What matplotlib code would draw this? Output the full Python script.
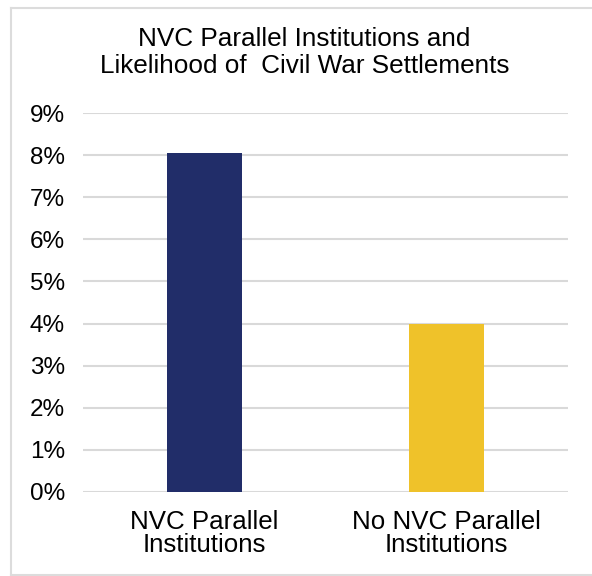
import matplotlib
matplotlib.use("Agg")
import matplotlib.pyplot as plt
from matplotlib.lines import Line2D
from matplotlib.ticker import FuncFormatter

plt.rcParams["font.family"] = ["Liberation Sans", "DejaVu Sans"]

categories = ["NVC Parallel\nInstitutions", "No NVC Parallel\nInstitutions"]
values = [0.0805, 0.040]
colors = ["#212d69", "#efc22a"]
yticks = [i / 100 for i in range(10)]

W, H = 592, 576
fig = plt.figure(figsize=(W / 100, H / 100), dpi=100)

# frame: left, top and bottom edges only
border = "#dcdcdc"
fig.lines.append(Line2D([11 / W, 11 / W], [1 - 8 / H, 1 - 575 / H],
                        transform=fig.transFigure, color=border, linewidth=1.5))
fig.lines.append(Line2D([11 / W, 1], [1 - 8 / H, 1 - 8 / H],
                        transform=fig.transFigure, color=border, linewidth=1.5))
fig.lines.append(Line2D([11 / W, 1], [1 - 575 / H, 1 - 575 / H],
                        transform=fig.transFigure, color=border, linewidth=1.5))

ax = fig.add_axes([83 / W, 1 - 492 / H, 485 / W, 379 / H])
x = range(len(categories))
ax.bar(x, values, width=0.31, color=colors, zorder=3)
ax.set_xlim(-0.5, 1.5)
ax.set_ylim(0, 0.09)
ax.set_yticks(yticks)
ax.yaxis.set_major_formatter(FuncFormatter(lambda v, _: f"{v * 100:.0f}%"))
ax.set_xticks(list(x))
ax.set_xticklabels(categories, fontsize=18.6, linespacing=0.95)
ax.tick_params(axis="y", labelsize=17.5, length=0, pad=13)
ax.tick_params(axis="x", length=0, pad=13)
ax.grid(axis="y", color="#d9d9d9", linewidth=1.5, zorder=0)
for s in ax.spines.values():
    s.set_visible(False)

fig.text(304.5 / W, 1 - 46 / H, "NVC Parallel Institutions and",
         ha="center", va="baseline", fontsize=18.8)
fig.text(304.5 / W, 1 - 73 / H, "Likelihood of  Civil War Settlements",
         ha="center", va="baseline", fontsize=18.8)

fig.savefig("out.png", dpi=100)
